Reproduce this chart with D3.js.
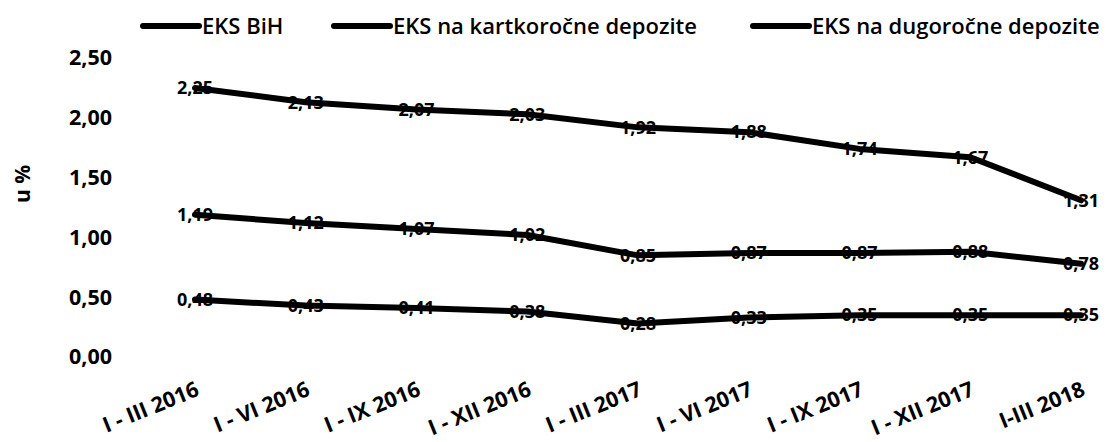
<!DOCTYPE html>
<html lang="bs">
<head>
<meta charset="utf-8">
<title>EKS</title>
<script src="https://cdn.jsdelivr.net/npm/d3@7"></script>
<style>
  body { margin: 0; background: #fff; }
  text { font-family: "Open Sans", sans-serif; fill: #000; }
</style>
</head>
<body>
<div id="chart"></div>
<script>
// periods
const periods = ["I - III 2016", "I - VI 2016", "I - IX 2016", "I - XII 2016", "I - III 2017",
                 "I - VI 2017", "I - IX 2017", "I - XII 2017", "I-III 2018"];
// series
const seriesNames = ["EKS BiH", "EKS na kartkoročne depozite", "EKS na dugoročne depozite"];
const eksBih = [1.19, 1.12, 1.07, 1.02, 0.85, 0.87, 0.87, 0.88, 0.78];
const eksKratko = [0.48, 0.43, 0.41, 0.38, 0.28, 0.33, 0.35, 0.35, 0.35];
const eksDugo = [2.25, 2.13, 2.07, 2.03, 1.92, 1.88, 1.74, 1.67, 1.31];
const yTicks = [0, 0.5, 1, 1.5, 2, 2.5];

const W = 1107, H = 442;
const fmt = v => d3.format(".2f")(v).replace(".", ",");

const svg = d3.select("#chart").append("svg")
  .attr("width", W).attr("height", H);

const x = d3.scalePoint().domain(periods).range([195, 1081]);
const y = d3.scaleLinear().domain([0, 2.5]).range([357, 58]);

// y axis labels (no line, no ticks)
const yAxis = svg.append("g")
  .attr("transform", "translate(112,0)")
  .call(d3.axisLeft(y).tickValues(yTicks).tickSize(0).tickPadding(0).tickFormat(fmt));
yAxis.select(".domain").remove();
yAxis.selectAll("text")
  .style("font-family", "'Open Sans', sans-serif")
  .style("font-size", "21.5px").style("font-weight", 700).attr("fill", "#000");

// y title
svg.append("text")
  .attr("transform", "translate(30,184) rotate(-90)")
  .attr("text-anchor", "middle")
  .style("font-size", "21px").style("font-weight", 700)
  .text("u %");

// x labels, rotated
const xAxis = svg.append("g")
  .attr("transform", "translate(0,395)")
  .call(d3.axisBottom(x).tickSize(0).tickPadding(0));
xAxis.select(".domain").remove();
xAxis.selectAll("text")
  .attr("y", 0).attr("dy", 0)
  .attr("text-anchor", "end")
  .attr("transform", "translate(5,0) rotate(-22)")
  .style("font-family", "'Open Sans', sans-serif")
  .style("font-size", "21.5px").style("font-weight", 700).attr("fill", "#000");

const series = [eksBih, eksKratko, eksDugo];

// data labels (under the lines)
series.forEach(vals => {
  svg.append("g").selectAll("text")
    .data(vals)
    .join("text")
    .attr("x", (d, i) => x(periods[i]))
    .attr("y", d => y(d))
    .attr("dy", "0.35em")
    .attr("text-anchor", "middle")
    .style("font-size", "18px").style("font-weight", 700)
    .text(fmt);
});

// lines
const line = d3.line()
  .x((d, i) => x(periods[i]))
  .y(d => y(d));

series.forEach(vals => {
  svg.append("path")
    .datum(vals)
    .attr("fill", "none")
    .attr("stroke", "#000")
    .attr("stroke-width", 6)
    .attr("stroke-linejoin", "round")
    .attr("stroke-linecap", "round")
    .attr("d", line);
});

// legend
const legendX = [143, 334, 753];
const legend = svg.append("g").selectAll("g")
  .data(seriesNames)
  .join("g")
  .attr("transform", (d, i) => `translate(${legendX[i]},26)`);
legend.append("line")
  .attr("x1", 0).attr("x2", 56)
  .attr("stroke", "#000").attr("stroke-width", 6).attr("stroke-linecap", "round");
legend.append("text")
  .attr("x", 59).attr("dy", "0.35em")
  .style("font-size", "22px").style("font-weight", 600)
  .text(d => d);
</script>
</body>
</html>
